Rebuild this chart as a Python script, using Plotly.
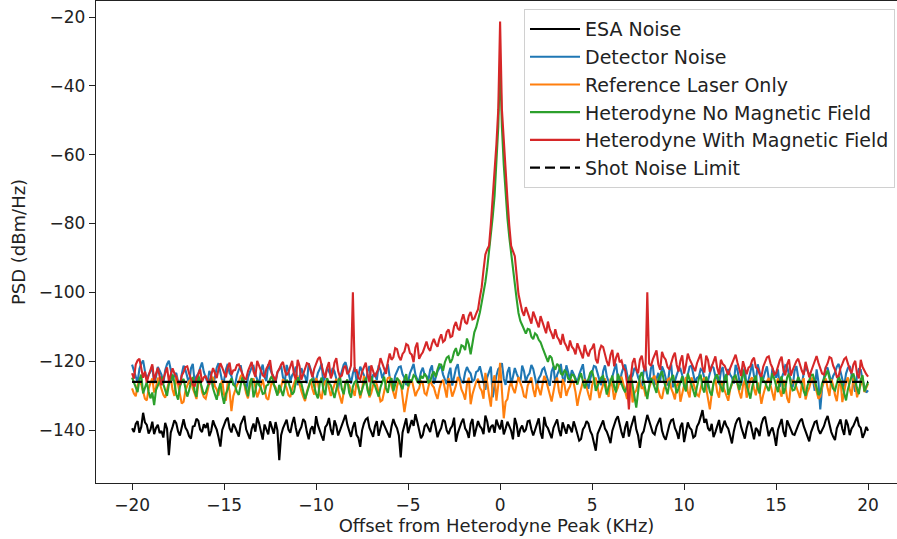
import numpy as np
import plotly.graph_objects as go

# x grid: offset from heterodyne peak (kHz), -20 .. 20 in 0.1 steps
offset_khz = np.round(np.linspace(-20, 20, 401), 2)

esa_noise = [
    -139.5, -140.6, -138.2, -137.4, -140.8, -139.1, -135.0, -137.8, -138.5, -141.0, -139.9, -137.6, -141.2, -139.4, -138.5, -140.9, -140.3, -142.2, -137.9, -139.6,
    -147.3, -140.8, -139.1, -137.2, -138.0, -140.4, -141.6, -138.9, -136.9, -139.3, -140.2, -141.8, -142.5, -139.0, -138.8, -136.7, -137.3, -139.9, -140.6, -138.3,
    -139.4, -137.9, -141.8, -140.3, -137.2, -138.7, -139.9, -142.1, -144.8, -140.0, -138.6, -137.1, -136.4, -139.5, -140.7, -138.2, -139.2, -140.9, -141.9, -138.4,
    -137.0, -135.9, -139.8, -141.4, -142.6, -139.7, -138.1, -140.5, -136.3, -138.0, -140.9, -142.8, -138.4, -139.6, -141.3, -137.5, -139.6, -141.1, -137.7, -140.1,
    -148.8, -141.5, -139.5, -138.3, -137.0, -139.9, -140.8, -138.1, -136.2, -139.4, -141.9, -140.2, -139.1, -136.8, -137.6, -140.6, -142.7, -139.8, -138.9, -141.2,
    -136.0, -138.6, -140.5, -141.7, -143.1, -139.2, -138.4, -136.5, -139.9, -141.4, -137.2, -138.8, -141.6, -140.1, -138.7, -137.0, -135.6, -138.5, -140.3, -142.0,
    -139.2, -137.7, -141.4, -142.3, -144.9, -140.1, -138.1, -136.9, -136.5, -139.3, -140.6, -142.0, -138.9, -137.4, -141.7, -139.5, -137.3, -138.6, -139.8, -141.3,
    -142.2, -139.0, -136.8, -138.4, -139.5, -141.6, -148.0, -140.7, -138.6, -136.6, -140.9, -139.2, -137.1, -138.8, -135.4, -137.6, -139.7, -142.4, -141.5, -138.9,
    -138.3, -139.7, -140.6, -138.0, -136.9, -139.2, -142.1, -140.5, -139.4, -137.0, -137.5, -140.1, -141.2, -139.6, -138.8, -136.4, -143.4, -140.9, -139.0, -137.8,
    -136.7, -139.5, -140.4, -142.3, -138.2, -136.8, -141.9, -139.3, -137.4, -138.9, -139.6, -141.2, -135.8, -137.5, -140.7, -139.1, -138.5, -140.8, -137.0, -138.6,
    -139.8, -137.1, -141.3, -139.6, -137.6, -138.9, -140.2, -142.7, -136.5, -138.4, -142.0, -139.7, -138.7, -140.6, -139.9, -137.5, -137.3, -139.8, -141.6, -140.0,
    -138.0, -136.6, -140.8, -142.5, -136.2, -138.7, -139.5, -141.0, -142.4, -139.4, -138.1, -136.9, -140.0, -141.8, -137.8, -139.2, -141.1, -138.4, -139.3, -140.7,
    -137.5, -139.2, -140.9, -143.1, -142.6, -139.8, -139.0, -137.4, -138.1, -140.3, -141.4, -143.5, -146.0, -141.1, -139.7, -138.0, -137.2, -139.6, -140.5, -142.0,
    -143.8, -140.2, -138.3, -136.9, -136.0, -138.8, -140.7, -142.3, -139.2, -137.5, -141.9, -139.4, -137.6, -135.9, -139.8, -141.6, -145.2, -141.3, -140.4, -138.1,
    -135.6, -137.3, -138.9, -140.8, -141.3, -139.0, -137.7, -136.5, -140.2, -141.9, -142.8, -140.1, -138.5, -137.2, -136.9, -139.4, -140.6, -142.6, -139.1, -137.9,
    -143.5, -140.7, -137.8, -139.3, -139.9, -142.2, -141.7, -139.0, -138.0, -136.2, -134.2, -137.9, -136.8, -139.5, -140.3, -138.2, -142.1, -140.6, -138.6, -137.1,
    -140.9, -139.1, -137.3, -138.8, -139.6, -141.7, -143.9, -140.4, -138.2, -137.0, -136.4, -139.1, -141.0, -142.5, -139.5, -137.6, -137.9, -140.3, -142.7, -139.4,
    -140.1, -141.8, -138.4, -136.7, -136.1, -139.0, -141.8, -140.2, -139.3, -141.5, -144.6, -140.0, -138.0, -136.8, -140.5, -142.0, -137.2, -138.7, -139.8, -141.2,
    -141.4, -139.8, -138.6, -137.3, -136.7, -138.9, -140.2, -142.0, -143.3, -140.6, -139.0, -137.7, -137.4, -139.9, -141.1, -140.0, -138.9, -137.1, -135.9, -138.3,
    -140.6, -141.9, -142.9, -139.5, -138.1, -136.9, -139.7, -141.4, -137.0, -138.5, -141.5, -139.6, -138.8, -137.4, -136.2, -138.7, -139.4, -142.3, -141.0, -139.1,
    -140.2,
]

detector_noise = [
    -121.0, -123.2, -124.5, -126.1, -122.2, -120.7, -119.8, -122.9, -125.1, -124.0, -123.0, -121.5, -126.4, -124.6, -121.7, -122.8, -124.0, -126.5, -122.6, -120.9,
    -119.9, -122.4, -125.7, -124.1, -123.4, -125.9, -127.2, -123.8, -121.3, -122.5, -124.8, -126.6, -122.1, -120.8, -126.0, -124.4, -123.6, -121.9, -120.4, -123.1,
    -124.9, -126.3, -122.8, -124.2, -127.5, -125.0, -121.9, -120.6, -123.7, -125.9, -125.6, -122.4, -120.8, -123.5, -124.3, -126.7, -126.9, -124.0, -122.5, -121.2,
    -124.1, -126.0, -128.9, -124.7, -123.2, -121.8, -121.4, -123.9, -125.3, -126.8, -122.7, -121.0, -124.6, -125.8, -120.9, -122.3, -123.8, -125.4, -126.2, -123.3,
    -122.4, -121.3, -124.7, -126.2, -121.1, -122.9, -125.8, -124.1, -123.3, -121.6, -127.0, -125.2, -122.0, -123.6, -124.4, -126.4, -120.6, -122.1, -123.9, -125.6,
    -125.5, -123.4, -122.3, -120.7, -126.7, -124.5, -121.8, -123.0, -124.2, -122.0, -123.0, -125.1, -128.1, -124.8, -122.6, -121.0, -120.3, -122.7, -124.9, -126.5,
    -123.5, -121.8, -125.9, -124.3, -121.6, -123.0, -124.1, -126.6, -122.9, -121.4, -126.3, -124.0, -123.7, -125.5, -121.2, -122.6, -125.0, -123.4, -122.4, -120.9,
    -124.6, -126.1, -127.4, -124.2, -123.1, -121.7, -121.5, -123.8, -124.8, -126.9, -126.0, -123.5, -122.2, -120.8, -123.9, -125.3, -125.7, -123.2, -121.9, -124.0,
    -124.3, -125.7, -122.5, -121.2, -126.6, -124.8, -123.0, -122.0, -121.4, -123.9, -125.2, -126.7, -123.8, -121.9, -127.1, -124.6, -122.1, -120.9, -124.5, -126.0,
    -126.2, -123.3, -121.7, -122.9, -123.6, -125.9, -125.4, -123.1, -122.8, -121.5, -124.0, -126.4, -128.3, -124.7, -122.9, -121.6, -130.5, -127.0, -124.2, -122.3,
    -121.8, -120.6, -125.1, -126.9, -123.2, -121.7, -126.8, -124.5, -122.0, -123.6, -124.7, -126.2, -121.3, -122.9, -125.9, -124.3, -123.5, -121.1, -122.2, -124.6,
    -127.3, -125.0, -124.1, -122.4, -121.9, -123.8, -125.6, -127.2, -123.0, -121.6, -126.4, -124.0, -122.7, -120.8, -124.8, -126.1, -121.2, -123.4, -125.3, -122.6,
    -123.7, -125.2, -126.1, -123.9, -122.4, -120.9, -124.9, -126.3, -128.0, -125.1, -123.3, -121.4, -121.6, -123.8, -125.5, -127.0, -122.9, -121.2, -124.4, -126.0,
    -127.2, -124.5, -122.1, -120.7, -125.0, -126.8, -123.6, -121.9, -121.0, -123.5, -126.5, -124.9, -124.2, -122.0, -122.6, -124.7, -125.8, -127.4, -123.1, -121.5,
    -124.6, -126.3, -122.0, -121.1, -126.9, -124.8, -123.4, -125.7, -121.5, -122.8, -125.3, -127.1, -122.8, -120.9, -127.6, -125.4, -124.0, -122.5, -122.2, -124.1,
    -125.7, -127.3, -123.9, -121.6, -121.3, -123.7, -126.2, -124.9, -124.5, -122.3, -122.7, -125.0, -128.4, -125.6, -123.5, -121.4, -121.9, -124.3, -125.1, -126.7,
    -123.0, -121.7, -126.0, -124.6, -122.3, -123.9, -124.7, -126.5, -121.1, -122.6, -125.6, -127.0, -123.8, -121.8, -127.9, -125.3, -122.5, -120.8, -124.3, -126.1,
    -120.9, -123.0, -126.3, -125.2, -123.2, -121.5, -125.0, -126.9, -122.1, -123.7, -124.8, -122.4, -127.5, -124.9, -123.4, -121.2, -121.6, -123.9, -125.4, -127.6,
    -122.9, -121.4, -124.6, -126.2, -126.7, -123.5, -121.8, -122.7, -123.9, -125.8, -125.2, -128.6, -122.4, -126.0, -134.0, -127.8, -124.1, -121.9, -122.0, -124.5,
    -126.1, -124.3, -123.3, -121.6, -120.8, -123.1, -125.7, -127.4, -123.6, -122.0, -121.4, -124.2, -126.8, -128.9, -124.0, -122.3, -122.5, -125.6, -127.3, -129.1,
    -128.5,
]

reference_laser = [
    -127.9, -129.4, -130.2, -127.0, -125.6, -126.8, -128.8, -130.9, -131.4, -128.1, -126.3, -125.0, -129.1, -127.7, -124.8, -126.5, -127.5, -129.8, -130.6, -128.4,
    -126.0, -124.9, -128.3, -130.1, -124.2, -126.9, -129.7, -132.3, -131.8, -128.6, -127.1, -125.8, -125.3, -127.9, -129.4, -131.0, -126.6, -125.1, -128.9, -130.4,
    -130.9, -128.5, -126.4, -125.2, -124.6, -127.3, -128.2, -130.0, -127.0, -125.6, -129.8, -131.5, -125.9, -128.7, -134.5, -130.2, -128.6, -126.9, -126.1, -124.4,
    -123.8, -126.5, -129.3, -130.8, -127.4, -125.9, -125.0, -127.6, -130.5, -129.0, -126.8, -125.3, -128.0, -130.7, -131.2, -128.3, -125.7, -126.9, -127.6, -129.5,
    -129.0, -127.4, -125.2, -126.6, -127.8, -129.9, -130.4, -128.0, -126.2, -125.0, -124.5, -127.1, -128.7, -130.3, -131.6, -128.9, -126.9, -125.4, -128.1, -129.7,
    -124.9, -126.3, -129.6, -131.0, -127.2, -125.8, -125.5, -128.2, -130.1, -128.5, -126.7, -125.1, -128.4, -130.6, -132.3, -129.1, -125.8, -126.4, -127.0, -128.8,
    -128.5, -130.1, -126.0, -127.4, -130.8, -128.2, -124.3, -125.9, -127.7, -130.5, -129.2, -127.0, -125.6, -126.8, -128.9, -131.7, -131.3, -128.4, -126.4, -124.9,
    -124.7, -127.2, -129.5, -130.9, -127.3, -125.5, -126.1, -129.8, -134.8, -131.4, -128.0, -126.2, -125.4, -127.8, -130.2, -128.7, -127.9, -125.7, -126.5, -129.3,
    -129.8, -127.6, -125.3, -126.9, -127.6, -129.5, -131.0, -128.1, -126.2, -125.4, -128.4, -130.6, -124.9, -127.3, -130.3, -128.8, -127.1, -124.6, -125.8, -128.2,
    -129.4, -131.2, -126.7, -124.8, -132.5, -129.6, -127.9, -126.0, -125.1, -127.7, -128.6, -130.9, -123.4, -126.1, -130.0, -133.2, -126.3, -124.1, -131.5, -127.0,
    -120.5, -128.5, -136.6, -131.8, -131.0, -127.5, -126.2, -128.0, -129.3, -126.8, -124.6, -126.3, -127.8, -130.2, -130.5, -127.1, -125.9, -124.7, -128.2, -130.4,
    -126.5, -128.1, -129.9, -127.0, -124.3, -125.6, -127.5, -129.6, -131.7, -128.9, -126.0, -124.8, -128.8, -130.7, -125.2, -126.9, -130.1, -128.3, -127.3, -125.4,
    -126.4, -129.0, -133.0, -130.1, -128.1, -126.0, -125.5, -127.8, -129.6, -131.3, -127.0, -125.3, -124.8, -127.5, -130.7, -128.6, -126.6, -125.0, -128.3, -130.4,
    -125.1, -127.2, -131.2, -128.9, -127.7, -125.6, -124.5, -126.8, -129.0, -131.0, -126.9, -125.2, -132.0, -129.3, -128.5, -126.3, -125.9, -128.0, -127.4, -129.9,
    -129.7, -127.8, -126.1, -124.9, -124.2, -126.6, -128.6, -130.3, -130.9, -128.0, -126.8, -125.4, -125.0, -127.9, -129.3, -131.1, -127.2, -125.8, -131.8, -129.4,
    -126.0, -124.6, -128.9, -130.5, -124.7, -126.4, -127.5, -129.7, -130.2, -127.6, -125.6, -124.8, -128.1, -131.3, -134.0, -129.6, -126.4, -125.2, -129.0, -130.6,
    -125.8, -127.0, -128.4, -130.2, -131.5, -128.3, -126.5, -125.1, -124.4, -126.9, -129.1, -130.8, -127.0, -125.5, -130.6, -128.2, -125.3, -124.7, -128.0, -129.9,
    -126.2, -128.6, -132.4, -129.8, -127.6, -125.9, -124.9, -127.3, -129.5, -131.4, -126.7, -125.0, -128.7, -130.3, -125.4, -127.2, -130.8, -132.1, -127.1, -125.6,
    -125.9, -127.5, -129.2, -130.7, -126.4, -124.9, -131.1, -129.0, -127.8, -125.7, -124.6, -126.8, -128.5, -130.9, -130.3, -127.4, -126.1, -125.0, -127.9, -130.1,
    -125.2, -127.0, -129.8, -131.6, -127.3, -125.5, -131.9, -128.8, -126.0, -124.7, -128.2, -130.0, -124.8, -126.6, -130.5, -128.4, -127.0, -125.3, -129.0, -127.7,
    -126.5,
]

het_no_field = [
    -124.8, -126.3, -127.6, -129.0, -125.3, -123.9, -129.4, -127.8, -126.1, -128.9, -130.8, -129.1, -132.8, -128.4, -127.0, -125.6, -124.5, -126.7, -128.3, -130.1,
    -126.7, -125.0, -123.9, -126.2, -129.6, -131.2, -127.4, -125.8, -125.2, -127.9, -130.3, -128.5, -126.0, -124.6, -128.8, -130.4, -124.1, -125.9, -127.5, -129.7,
    -129.1, -127.2, -125.8, -124.7, -127.9, -129.6, -131.2, -128.3, -126.4, -129.9, -132.4, -129.5, -128.2, -126.1, -125.0, -126.8, -127.3, -128.9, -129.8, -127.0,
    -124.6, -126.5, -128.0, -130.2, -126.2, -124.9, -130.5, -128.7, -125.5, -126.9, -127.7, -129.5, -129.3, -127.1, -126.8, -125.2, -124.3, -126.6, -128.6, -130.0,
    -126.9, -128.6, -130.1, -127.5, -125.4, -126.2, -127.8, -129.7, -128.9, -126.1, -124.7, -125.9, -126.5, -128.8, -131.0, -129.3, -127.2, -125.7, -125.1, -127.6,
    -129.5, -130.8, -126.3, -124.8, -128.4, -129.9, -124.9, -126.4, -127.0, -128.9, -130.7, -128.2, -125.8, -124.5, -128.1, -129.6, -126.6, -125.3, -129.2, -130.6,
    -127.4, -126.0, -125.6, -127.7, -129.9, -128.3, -126.2, -124.8, -128.5, -130.0, -124.4, -126.3, -127.1, -128.9, -130.3, -127.6, -125.9, -124.5, -127.8, -129.2,
    -126.0, -124.9, -128.7, -126.5, -124.8, -125.7, -126.9, -128.2, -125.2, -123.8, -127.3, -125.5, -125.8, -124.1, -124.6, -126.0, -126.4, -124.3, -125.0, -123.6,
    -124.5, -126.2, -125.8, -124.0, -123.0, -124.6, -122.4, -120.9, -121.0, -122.8, -120.3, -119.0, -118.6, -120.5, -119.4, -117.3, -116.2, -118.4, -117.5, -115.4,
    -115.7, -116.8, -113.4, -115.1, -118.0, -114.6, -111.6, -110.2, -108.2, -105.9, -103.0, -100.4, -97.0, -93.0, -88.5, -84.0, -78.0, -72.0, -63.0, -52.0,
    -33.0, -52.0, -63.0, -72.0, -78.5, -84.0, -89.0, -94.0, -98.0, -102.0, -106.0, -108.3, -109.5, -111.0, -112.0, -110.6, -110.8, -112.9, -113.6, -111.9,
    -112.4, -113.8, -114.5, -116.0, -117.3, -119.1, -120.2, -118.4, -119.0, -121.3, -122.5, -120.8, -121.4, -123.6, -124.0, -122.7, -123.2, -125.1, -125.5, -123.9,
    -124.1, -125.5, -126.8, -124.9, -123.5, -125.8, -127.9, -126.3, -125.2, -123.4, -122.8, -125.1, -128.6, -127.2, -126.0, -124.7, -124.3, -127.0, -129.7, -127.5,
    -125.6, -124.2, -127.4, -129.1, -123.7, -125.3, -126.5, -128.0, -129.0, -126.6, -125.0, -123.9, -127.7, -130.2, -133.5, -128.0, -124.4, -123.2, -126.1, -128.4,
    -131.0, -127.3, -124.9, -126.1, -127.6, -129.2, -125.3, -124.0, -122.9, -125.6, -128.1, -129.6, -126.4, -125.1, -124.0, -126.7, -129.3, -127.9, -125.7, -124.4,
    -127.2, -128.8, -123.6, -125.0, -126.9, -128.6, -130.4, -127.4, -125.1, -123.9, -127.8, -129.1, -124.5, -126.3, -128.9, -130.0, -126.2, -124.6, -123.8, -125.9,
    -127.5, -129.0, -125.0, -123.8, -129.8, -128.1, -126.3, -124.6, -124.2, -126.5, -128.4, -125.7, -122.6, -124.9, -126.7, -128.8, -130.9, -127.6, -125.4, -124.2,
    -127.9, -129.4, -124.1, -125.6, -126.0, -127.5, -128.7, -126.2, -123.5, -125.1, -127.2, -129.0, -125.8, -124.4, -129.5, -127.8, -124.7, -123.6, -126.9, -128.5,
    -128.3, -126.5, -124.6, -125.9, -126.4, -128.7, -130.1, -127.2, -125.5, -124.0, -123.9, -126.2, -127.6, -129.8, -129.2, -126.4, -125.1, -123.5, -122.7, -125.0,
    -126.8, -128.0, -128.5, -126.1, -124.4, -125.8, -127.0, -129.3, -131.4, -128.2, -125.9, -124.3, -123.6, -126.0, -127.9, -129.6, -125.3, -124.1, -128.8, -127.3,
    -126.0,
]

het_with_field = [
    -123.5, -125.1, -121.0, -119.8, -119.3, -122.6, -124.8, -123.0, -126.2, -124.1, -122.7, -120.9, -125.5, -123.8, -121.9, -124.4, -127.0, -125.2, -123.4, -121.8,
    -125.8, -124.0, -122.1, -123.5, -124.6, -126.3, -126.9, -124.2, -123.2, -121.7, -121.5, -123.6, -125.1, -126.8, -127.4, -124.9, -123.8, -122.4, -126.0, -124.7,
    -124.4, -125.9, -126.8, -124.1, -122.0, -123.4, -124.9, -122.3, -120.6, -121.9, -123.3, -124.7, -121.8, -120.4, -124.0, -122.7, -122.6, -121.1, -120.9, -122.5,
    -123.7, -125.0, -125.2, -122.9, -121.4, -120.2, -123.0, -124.6, -119.9, -121.3, -122.8, -124.1, -124.5, -122.2, -121.2, -119.7, -123.6, -124.9, -125.7, -123.1,
    -122.3, -121.0, -120.2, -122.7, -124.1, -123.2, -121.6, -119.9, -123.9, -125.3, -119.6, -121.4, -125.4, -123.7, -122.5, -120.6, -120.8, -123.1, -124.7, -122.2,
    -121.0, -119.4, -118.8, -121.5, -123.4, -124.8, -121.9, -120.3, -125.0, -123.6, -120.4, -119.1, -122.9, -124.6, -124.2, -122.0, -121.3, -123.8, -123.0, -121.2,
    -100.0, -122.8, -122.6, -124.9, -125.3, -123.1, -121.8, -120.4, -123.9, -126.1, -121.2, -122.7, -124.6, -123.3, -122.0, -119.1, -120.5, -122.4, -123.7, -120.2,
    -117.8, -119.6, -118.9, -116.2, -116.5, -118.7, -119.7, -117.9, -117.2, -115.0, -115.4, -117.6, -118.1, -120.3, -116.0, -114.6, -119.3, -118.2, -117.4, -115.9,
    -114.3, -116.2, -117.0, -114.9, -113.5, -115.0, -115.8, -113.6, -112.2, -114.4, -113.9, -111.5, -110.8, -113.0, -112.7, -109.9, -108.6, -110.5, -111.0, -108.1,
    -106.4, -108.7, -109.2, -106.8, -105.7, -107.9, -107.6, -106.2, -105.0, -101.5, -98.5, -93.5, -89.0, -87.5, -86.5, -80.0, -73.0, -65.0, -57.0, -47.0,
    -21.3, -47.0, -57.0, -65.0, -73.0, -80.5, -86.5, -88.0, -89.5, -95.0, -100.5, -103.0, -105.5, -106.8, -104.3, -105.9, -107.9, -109.1, -105.6, -107.3,
    -108.8, -110.2, -106.9, -108.6, -110.4, -111.9, -108.5, -110.8, -112.0, -113.5, -110.7, -112.9, -113.8, -115.2, -112.1, -114.6, -115.6, -117.0, -114.0, -115.8,
    -116.5, -118.0, -114.8, -116.1, -117.9, -119.2, -115.3, -117.4, -118.6, -116.8, -116.2, -114.9, -119.4, -120.6, -117.0, -115.5, -115.9, -118.3, -120.1, -121.4,
    -118.2, -116.7, -121.5, -119.0, -117.6, -120.3, -119.8, -121.9, -122.7, -126.5, -134.0, -124.8, -120.4, -119.1, -122.3, -123.5, -119.5, -118.4, -121.7, -122.9,
    -100.0, -120.7, -121.4, -119.5, -118.0, -116.9, -120.9, -122.5, -117.3, -118.8, -119.6, -121.7, -122.4, -120.1, -118.7, -117.5, -121.1, -123.0, -119.9, -118.3,
    -123.6, -121.2, -117.8, -119.4, -120.5, -122.1, -122.9, -120.6, -119.2, -117.9, -121.8, -123.3, -118.4, -119.7, -123.1, -121.5, -120.2, -118.6, -122.0, -123.9,
    -119.6, -120.8, -121.3, -122.9, -124.0, -122.1, -120.7, -119.2, -118.1, -120.4, -122.6, -124.3, -120.0, -121.6, -123.8, -121.9, -121.5, -119.7, -119.0, -121.8,
    -122.2, -123.7, -124.5, -121.6, -120.4, -118.9, -118.6, -120.7, -121.9, -123.9, -123.4, -121.2, -119.8, -118.7, -122.7, -124.1, -120.9, -119.5, -124.2, -122.6,
    -121.1, -120.0, -119.3, -121.4, -122.8, -124.0, -120.2, -122.3, -124.7, -123.0, -121.6, -119.7, -118.5, -120.5, -122.1, -123.6, -123.9, -121.8, -120.6, -118.8,
    -119.1, -121.3, -122.5, -124.6, -124.3, -122.0, -120.8, -119.4, -118.9, -121.1, -122.4, -123.5, -121.0, -119.9, -123.7, -125.0, -119.6, -121.7, -122.9, -123.8,
    -124.5,
]

shot_noise_x = [-20, 20]
shot_noise_limit = [-126.0, -126.0]

x_tick_vals = [-20, -15, -10, -5, 0, 5, 10, 15, 20]
x_tick_text = ["\u221220", "\u221215", "\u221210", "\u22125", "0", "5", "10", "15", "20"]
y_tick_vals = [-140, -120, -100, -80, -60, -40, -20]
y_tick_text = ["\u2212140", "\u2212120", "\u2212100", "\u221280", "\u221260", "\u221240", "\u221220"]

for s in (esa_noise, detector_noise, reference_laser, het_no_field, het_with_field):
    assert len(s) == len(offset_khz), len(s)

LW = 2.1
fig = go.Figure()
fig.add_trace(go.Scatter(x=offset_khz, y=esa_noise, mode="lines", name="ESA Noise",
                         line=dict(color="black", width=LW)))
fig.add_trace(go.Scatter(x=offset_khz, y=detector_noise, mode="lines", name="Detector Noise",
                         line=dict(color="#1f77b4", width=LW)))
fig.add_trace(go.Scatter(x=offset_khz, y=reference_laser, mode="lines", name="Reference Laser Only",
                         line=dict(color="#ff7f0e", width=LW)))
fig.add_trace(go.Scatter(x=offset_khz, y=het_no_field, mode="lines", name="Heterodyne No Magnetic Field",
                         line=dict(color="#2ca02c", width=LW)))
fig.add_trace(go.Scatter(x=offset_khz, y=het_with_field, mode="lines", name="Heterodyne With Magnetic Field",
                         line=dict(color="#d62728", width=LW)))
fig.add_trace(go.Scatter(x=shot_noise_x, y=shot_noise_limit, mode="lines", name="Shot Noise Limit",
                         line=dict(color="black", width=2.2, dash="10px,5px")))

axis_common = dict(showgrid=False, zeroline=False, showline=True, linecolor="#222222", linewidth=1.3,
                   ticks="outside", ticklen=6, tickwidth=1.3, tickcolor="#222222",
                   tickfont=dict(size=17, color="#222222"))

fig.update_layout(
    width=897, height=539,
    margin=dict(l=96, r=0, t=1, b=56),
    plot_bgcolor="white", paper_bgcolor="white",
    font=dict(family="DejaVu Sans", size=17, color="#222222"),
    xaxis=dict(range=[-21.96, 21.57], tickvals=x_tick_vals, ticktext=x_tick_text, mirror=True,
               title=dict(text="Offset from Heterodyne Peak (KHz)", font=dict(size=18), standoff=4),
               **axis_common),
    yaxis=dict(range=[-155.4, -15.35], tickvals=y_tick_vals, ticktext=y_tick_text, mirror=False,
               title=dict(text="PSD (dBm/Hz)", font=dict(size=18), standoff=8),
               **axis_common),
    legend=dict(x=0.9975, xanchor="right", y=0.983, yanchor="top",
                bgcolor="rgba(255,255,255,0.85)", bordercolor="#d0d0d0", borderwidth=1,
                font=dict(size=19, color="#222222"), tracegroupgap=0, itemwidth=50),
)

fig.write_html("out.html")
